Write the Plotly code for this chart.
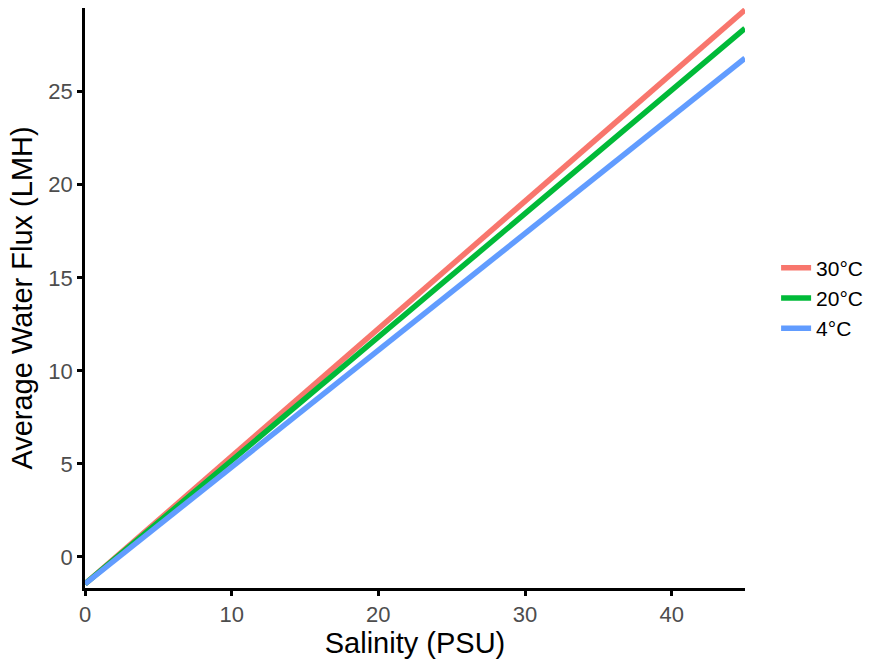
import plotly.graph_objects as go

salinity = [0, 15, 30, 45]
flux_30C = [-1.45, 8.83, 19.12, 29.4]
flux_20C = [-1.45, 8.5, 18.45, 28.4]
flux_4C = [-1.45, 7.97, 17.38, 26.8]
series_names = ["30°C", "20°C", "4°C"]
colors = ["#F8766D", "#00BA38", "#619CFF"]

fig = go.Figure()
for name, ys, c in zip(series_names, [flux_30C, flux_20C, flux_4C], colors):
    fig.add_trace(go.Scatter(x=salinity, y=ys, mode="lines", name=name,
                             line=dict(color=c, width=5.5)))

fig.update_layout(
    width=873, height=660,
    margin=dict(l=85, r=128, t=8, b=72),
    plot_bgcolor="white", paper_bgcolor="white",
    font=dict(family="Liberation Sans, Arial, sans-serif"),
    showlegend=True,
    legend=dict(xref="container", x=0.889, y=0.50, xanchor="left", yanchor="middle",
                font=dict(size=21, color="black"), tracegroupgap=0,
                itemwidth=30),
    xaxis=dict(range=[0, 45], tickvals=[0, 10, 20, 30, 40], showgrid=False, zeroline=False,
               showline=True, linecolor="black", linewidth=2.5, automargin=False,
               ticks="outside", ticklen=5, tickwidth=2.5, tickcolor="black",
               tickfont=dict(size=22, color="#4d4d4d"),
               title=dict(text="Salinity (PSU)", font=dict(size=29, color="black"), standoff=4)),
    yaxis=dict(range=[-1.67, 29.5], tickvals=[0, 5, 10, 15, 20, 25], showgrid=False, zeroline=False,
               showline=True, linecolor="black", linewidth=2.5, automargin=False,
               ticks="outside", ticklen=5, tickwidth=2.5, tickcolor="black",
               tickfont=dict(size=22, color="#4d4d4d"),
               title=dict(text="Average Water Flux (LMH)", font=dict(size=29, color="black"), standoff=8)),
)

fig.write_html("out.html", config={"displayModeBar": False},
               post_script="document.body.style.margin='0';document.body.style.overflow='hidden';")
